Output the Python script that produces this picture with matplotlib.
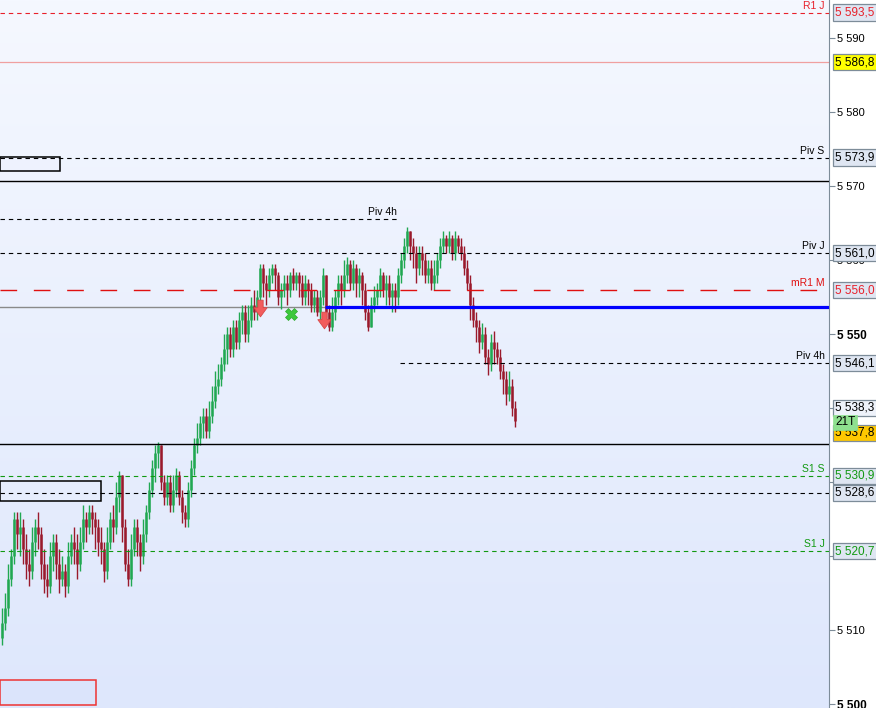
import numpy as np
import matplotlib
matplotlib.use("Agg")
from matplotlib import pyplot as plt
from matplotlib.colors import LinearSegmentedColormap
from matplotlib.path import Path
from matplotlib.patches import Rectangle
import matplotlib.transforms as mtransforms

plt.rcParams['font.family'] = ['Liberation Sans', 'DejaVu Sans']

# closing prices, one per bar (open = previous close)
closes = [
    5511, 5513, 5517, 5520, 5525, 5523,
    5524, 5521, 5519, 5518, 5522, 5524, 5523,
    5519, 5517, 5516, 5520, 5522, 5519,
    5517, 5518, 5516, 5520, 5522, 5521, 5519,
    5522, 5525, 5524, 5526, 5525, 5524, 5522, 5521,
    5518, 5522, 5525, 5524, 5528, 5531,
    5524, 5519, 5517, 5521, 5524, 5522, 5520, 5523,
    5526, 5529, 5532, 5534, 5535,
    5530, 5528, 5530, 5527, 5529,
    5531, 5528, 5526, 5525, 5529, 5532, 5535,
    5536, 5538, 5539, 5537, 5539,
    5541, 5543, 5544, 5546, 5548, 5550, 5548,
    5551, 5549, 5552, 5553, 5550, 5552,
    5554, 5553, 5555, 5559, 5557, 5556,
    5558, 5559, 5558, 5555, 5556, 5557,
    5556, 5558, 5557, 5558, 5557, 5555,
    5557, 5556, 5554, 5555, 5553, 5555, 5558,
    5553, 5551, 5553, 5555, 5557, 5556,
    5558, 5559.5, 5557, 5559, 5557, 5558,
    5556, 5553, 5551, 5554, 5555, 5556,
    5558, 5556, 5557, 5555, 5556, 5555,
    5558, 5560, 5562, 5564, 5562,
    5561, 5559, 5561, 5560, 5558, 5559, 5557, 5558,
    5560, 5562, 5563, 5562, 5563, 5561, 5563, 5562, 5561,
    5559, 5557, 5554, 5552, 5551, 5549, 5550,
    5547, 5546, 5549, 5548, 5547, 5545,
    5544, 5542, 5543, 5540, 5538.3,
]
highs = [
    5513, 5515, 5519, 5521, 5526, 5526,
    5526, 5525, 5523, 5521, 5524, 5525, 5526,
    5524, 5521, 5519, 5522, 5523, 5523,
    5521, 5520, 5519, 5522, 5523, 5524, 5523,
    5524, 5527, 5526, 5527, 5527, 5526, 5525, 5524,
    5522, 5524, 5526, 5527, 5530, 5531.5,
    5531, 5525, 5521, 5523, 5525, 5525, 5523, 5525,
    5527, 5530, 5533, 5535, 5535.5,
    5535, 5531, 5531, 5531, 5531,
    5532, 5531.5, 5529, 5527, 5530, 5533, 5536,
    5538, 5539, 5540, 5540, 5541,
    5543, 5545, 5546, 5547, 5550, 5551, 5551,
    5552, 5552, 5553, 5554, 5554, 5554,
    5555, 5556, 5556, 5559.5, 5559.5, 5558,
    5559, 5559.5, 5559.5, 5558.5, 5557, 5558,
    5558, 5558.5, 5559, 5558.5, 5558.5, 5558,
    5558, 5557.5, 5557, 5556, 5556, 5556, 5559,
    5558, 5554, 5555, 5556, 5558, 5558,
    5560, 5560.5, 5560, 5560, 5559.5, 5559,
    5558.5, 5557, 5554, 5555, 5556.5, 5557,
    5559, 5558.5, 5558, 5558, 5557, 5557,
    5559, 5561, 5563, 5564.5, 5564,
    5563, 5562, 5562, 5562, 5561, 5560, 5560, 5560,
    5561, 5563, 5564, 5563.5, 5564, 5563.5, 5564, 5563.5, 5563,
    5562, 5560, 5558, 5555, 5553, 5552, 5551.5,
    5551, 5548, 5550, 5550.5, 5549, 5548,
    5546, 5545, 5545, 5544, 5541,
]
lows = [
    5508, 5510, 5512, 5516, 5519, 5521,
    5520, 5519, 5517, 5516, 5517, 5520, 5521,
    5517, 5515, 5514.5, 5515, 5518, 5517,
    5515, 5516, 5514.5, 5515, 5519, 5519, 5517,
    5518, 5521, 5522, 5523, 5523, 5521, 5520, 5519,
    5516.5, 5517, 5521, 5522, 5523, 5526,
    5522, 5518, 5516, 5516, 5520, 5520, 5518, 5519,
    5522, 5525, 5528, 5530, 5532,
    5529, 5527, 5527, 5526, 5526,
    5528, 5527, 5524.5, 5524, 5524, 5528, 5531,
    5534, 5535, 5536, 5536, 5536,
    5538, 5540, 5542, 5543, 5545, 5546, 5547,
    5547, 5548, 5548, 5550, 5549, 5549,
    5551, 5552, 5552, 5554, 5555, 5554,
    5555, 5557, 5556, 5554, 5553.5, 5555,
    5554, 5555, 5556, 5556, 5555, 5554,
    5554, 5554, 5553, 5553, 5552.5, 5552, 5554,
    5552, 5550.5, 5550.5, 5552, 5554, 5554,
    5555, 5557, 5556, 5556, 5555, 5555,
    5554, 5552, 5550.5, 5551, 5553, 5554,
    5555, 5555, 5554, 5554, 5553, 5553,
    5554, 5557, 5559, 5561, 5560,
    5559, 5557, 5558, 5558, 5557, 5557, 5556, 5556,
    5557, 5559, 5561, 5561, 5561, 5560, 5560, 5561, 5560,
    5558, 5556, 5552, 5551, 5549, 5547.5, 5548,
    5546, 5544.5, 5545, 5546, 5546, 5544,
    5542, 5540.5, 5541, 5539, 5537.5,
]
first_open = 5509

# horizontal levels
dash_levels = [5593.5, 5573.9, 5561.0, 5530.9, 5528.6, 5520.7]
dash_names = ['R1 J', 'Piv S', 'Piv J', 'S1 S', '', 'S1 J']
dash_colors = ['#e8202a', 'black', 'black', '#119911', 'black', '#119911']
solid_levels = [5570.8, 5535.2]
yellow_level = 5586.8
mr1_level = 5556.0
grey_level = 5553.7
blue_start = 107.8
piv4h_old = 5565.6
piv4h_old_end = 131.8
piv4h_new = 5546.1
piv4h_new_start = 132.8

# zones on the left
zones = [(-0.5, 19.5, 5572.1, 5574.0, '#eef2fe', 'black'),
         (-0.5, 33.2, 5527.5, 5530.2, '#e6edfd', 'black'),
         (-0.5, 31.5, 5499.9, 5503.3, '#dbe4fb', '#ee3333')]

# signals
sell_x = [86.2, 107.5]
sell_y = [5553.6, 5552.0]
exit_x = [96.5]
exit_y = [5552.8]

fig = plt.figure(figsize=(8.76, 7.08), dpi=100)
fig.patch.set_facecolor('white')
ax = fig.add_axes([0, 0, 829 / 876, 1])

x_lo, x_hi = -0.5, 829 / 3 - 0.5
y_lo, y_hi = 5499.5, 5595.2
ax.set_xlim(x_lo, x_hi)
ax.set_ylim(y_lo, y_hi)

bg = LinearSegmentedColormap.from_list('bg', ['#f5f8ff', '#dee7fc'])
ax.imshow(np.linspace(0, 1, 256).reshape(-1, 1), cmap=bg, aspect='auto',
          extent=[x_lo, x_hi, y_lo, y_hi], zorder=0)

# bars
xs = np.arange(len(closes))
opens = [first_open] + closes[:-1]
cols = ['#21a852' if c > o else '#9a1a2c' for o, c in zip(opens, closes)]
ax.vlines(xs, lows, highs, colors=cols, linewidth=1.0, zorder=2)
ax.vlines(xs, np.minimum(opens, closes), np.maximum(opens, closes),
          colors=cols, linewidth=1.8, zorder=2)

# zones
for x0, x1, y0, y1, fc, ec in zones:
    ax.add_patch(Rectangle((x0, y0), x1 - x0, y1 - y0, facecolor=fc,
                           edgecolor=ec, linewidth=1.1, zorder=1.5))

# levels
ax.axhline(yellow_level, color='#f0a0a0', lw=0.9, zorder=1)
for y in solid_levels:
    ax.axhline(y, color='black', lw=1.0, zorder=3)
ax.axhline(grey_level, color='#8a8a8a', lw=1.0, zorder=1)
ax.hlines(grey_level, blue_start, x_hi, color='#0000ff', lw=2.3, zorder=3)
ax.axhline(mr1_level, color='#e01010', lw=1.0, ls=(0, (12, 12)), zorder=3)
for y, c in zip(dash_levels, dash_colors):
    ax.axhline(y, color=c, lw=0.8, ls=(0, (4, 3.5)), zorder=3)
ax.hlines(piv4h_old, x_lo, piv4h_old_end, color='black', lw=0.8, ls=(0, (4, 3.5)), zorder=3)
ax.hlines(piv4h_new, piv4h_new_start, x_hi, color='black', lw=0.8, ls=(0, (4, 3.5)), zorder=3)

# level names
name_x = 274.3
for y, n, c in zip(dash_levels, dash_names, dash_colors):
    if n:
        ax.text(name_x, y + 0.25, n, color=c, fontsize=7.5, ha='right', va='bottom', zorder=5)
ax.text(name_x, mr1_level + 0.25, 'mR1 M', color='#e01010', fontsize=7.5, ha='right', va='bottom', zorder=5)
ax.text(name_x, piv4h_new + 0.25, 'Piv 4h', color='black', fontsize=7.5, ha='right', va='bottom', zorder=5)
ax.text(piv4h_old_end, piv4h_old + 0.25, 'Piv 4h', color='black', fontsize=7.5, ha='right', va='bottom', zorder=5)

# signals
arrow = Path([(-0.32, 1), (0.32, 1), (0.32, 0.1), (0.8, 0.1), (0, -1), (-0.8, 0.1),
              (-0.32, 0.1), (-0.32, 1)],
             [Path.MOVETO] + [Path.LINETO] * 6 + [Path.CLOSEPOLY])
ax.plot(sell_x, sell_y, ls='none', marker=arrow, markersize=12,
        markerfacecolor='#f25c5c', markeredgecolor='#d84848', markeredgewidth=0.6, zorder=4)
ax.plot(exit_x, exit_y, ls='none', marker='X', markersize=8,
        markerfacecolor='#3cc83c', markeredgecolor='#2eaa2e', markeredgewidth=0.5, zorder=4)

# price axis
for s in ['top', 'left', 'bottom']:
    ax.spines[s].set_visible(False)
ax.spines['right'].set_color('#7d8c99')
ax.set_xticks([])
ticks = list(range(5500, 5600, 10))
hidden = [5530, 5540]
ax.yaxis.tick_right()
ax.set_yticks(ticks, labels=['' if t in hidden else f'{t:,}'.replace(',', ' ') for t in ticks])
ax.tick_params(axis='y', length=4, width=0.8, color='#7d8c99', pad=1.5, labelsize=8)
for t, lab in zip(ticks, ax.get_yticklabels()):
    if t % 50 == 0:
        lab.set_fontsize(8.5)
        lab.set_fontweight('bold')

trans = mtransforms.blended_transform_factory(ax.transAxes, ax.transData)
boxes = [
    (5593.5, '5 593,5', '#e8202a', '#dfe6f2'),
    (5586.8, '5 586,8', 'black', '#ffff00'),
    (5573.9, '5 573,9', 'black', '#dfe6f2'),
    (5561.0, '5 561,0', 'black', '#dfe6f2'),
    (5556.0, '5 556,0', '#e8202a', '#dfe6f2'),
    (5546.1, '5 546,1', 'black', '#dfe6f2'),
    (5540.1, '5 538,3', 'black', '#eef2fa'),
    (5536.7, '5 537,8', 'black', '#ffc800'),
    (5530.9, '5 530,9', '#119911', '#dfe6f2'),
    (5528.6, '5 528,6', 'black', '#dfe6f2'),
    (5520.7, '5 520,7', '#119911', '#dfe6f2'),
]
for y, txt, tc, fc in boxes:
    ax.text(1.0075, y, txt, transform=trans, color=tc, fontsize=8.5, ha='left', va='center',
            zorder=6, clip_on=False,
            bbox=dict(boxstyle='square,pad=0.18', facecolor=fc, edgecolor='#7d8c99', linewidth=0.9))
ax.text(1.0075, 5538.1, '21T', transform=trans, color='black', fontsize=8.5, ha='left', va='center',
        zorder=7, clip_on=False,
        bbox=dict(boxstyle='square,pad=0.15', facecolor='#8fe08f', edgecolor='#8fe08f', linewidth=0.5))

fig.savefig('out.png', dpi=100, facecolor='white')
